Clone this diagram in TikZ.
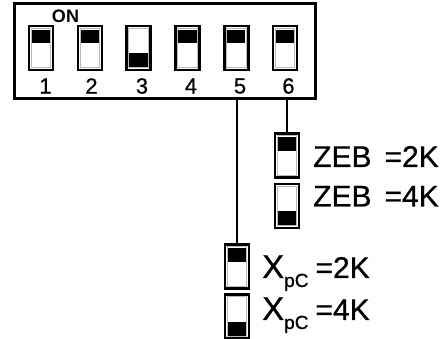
\documentclass[tikz,border=0pt]{standalone}
\usepackage{fontspec}
\setmainfont{Liberation Sans}
\newfontfamily\heavyfont{Liberation Sans}[FakeBold=0.7]
\usetikzlibrary{calc}
\tikzset{
  sw/.style={draw=black, line width=2.6pt, fill=white, minimum width=24pt, minimum height=44pt, inner sep=0pt, outer sep=0pt},
  swup/.style={sw, path picture={
     \draw[gray!55, line width=0.8pt] ($(path picture bounding box.south west)+(2.2pt,2.2pt)$) rectangle ($(path picture bounding box.north east)+(-2.2pt,-2.2pt)$);
     \fill[black] ($(path picture bounding box.north west)+(2.8pt,-3.7pt)$) rectangle ($(path picture bounding box.north east)+(-2.8pt,-17.5pt)$);}},
  swdown/.style={sw, path picture={
     \draw[gray!55, line width=0.8pt] ($(path picture bounding box.south west)+(2.2pt,2.2pt)$) rectangle ($(path picture bounding box.north east)+(-2.2pt,-2.2pt)$);
     \fill[black] ($(path picture bounding box.south west)+(2.8pt,2.8pt)$) rectangle ($(path picture bounding box.south east)+(-2.8pt,16.5pt)$);}},
  digit/.style={inner sep=0pt, font=\heavyfont\fontsize{22}{22}\selectfont},
  lbl/.style={inner sep=0pt, anchor=base west, font=\heavyfont\fontsize{30}{30}\selectfont},
  conn/.style={draw=black, line width=1.7pt}
}
\begin{document}
\begin{tikzpicture}[x=1pt,y=-1pt]
\useasboundingbox (0,0) rectangle (448,339);
% frame
\node[draw=black, line width=2.5pt, minimum width=301pt, minimum height=95pt, inner sep=0pt, outer sep=0pt] (frame) at (165,51) {};
\node[inner sep=0pt, font=\fontsize{18}{18}\selectfont\bfseries] (on) at (65.5,16) {ON};
% switches
\node[swup]   (s1) at (41,48) {};
\node[swup]   (s2) at (89.8,48) {};
\node[swdown] (s3) at (138.6,48) {};
\node[swup]   (s4) at (187.4,48) {};
\node[swup]   (s5) at (236.2,48) {};
\node[swup]   (s6) at (285,48) {};
% numbers
\node[digit] (n1) at (45.5,86) {1};
\node[digit] (n2) at (91.5,86) {2};
\node[digit] (n3) at (142,86) {3};
\node[digit] (n4) at (191,86) {4};
\node[digit] (n5) at (240,86) {5};
\node[digit] (n6) at (288.5,86) {6};
% ZEB switches
\node[swup]   (z1) at (287,155.5) {};
\node[swdown] (z2) at (287,206) {};
\node[lbl] (zl1) at (313,167) {ZEB\hspace{13pt}=2K};
\node[lbl] (zl2) at (313,206.5) {ZEB\hspace{13pt}=4K};
% XpC switches
\node[swup]   (x1) at (237,266.5) {};
\node[swdown] (x2) at (237,316.5) {};
\node[lbl] (xl1) at (262,278) {{\fontsize{33}{33}\selectfont X}\raisebox{-9pt}{\fontsize{19}{19}\selectfont pC}\hspace{7pt}=2K};
\node[lbl] (xl2) at (262,320) {{\fontsize{33}{33}\selectfont X}\raisebox{-9pt}{\fontsize{19}{19}\selectfont pC}\hspace{7pt}=4K};
% connectors
\draw[conn] (frame.south -| z1.north) -- (z1.north);
\draw[conn] (frame.south -| x1.north) -- (x1.north);
\end{tikzpicture}
\end{document}
